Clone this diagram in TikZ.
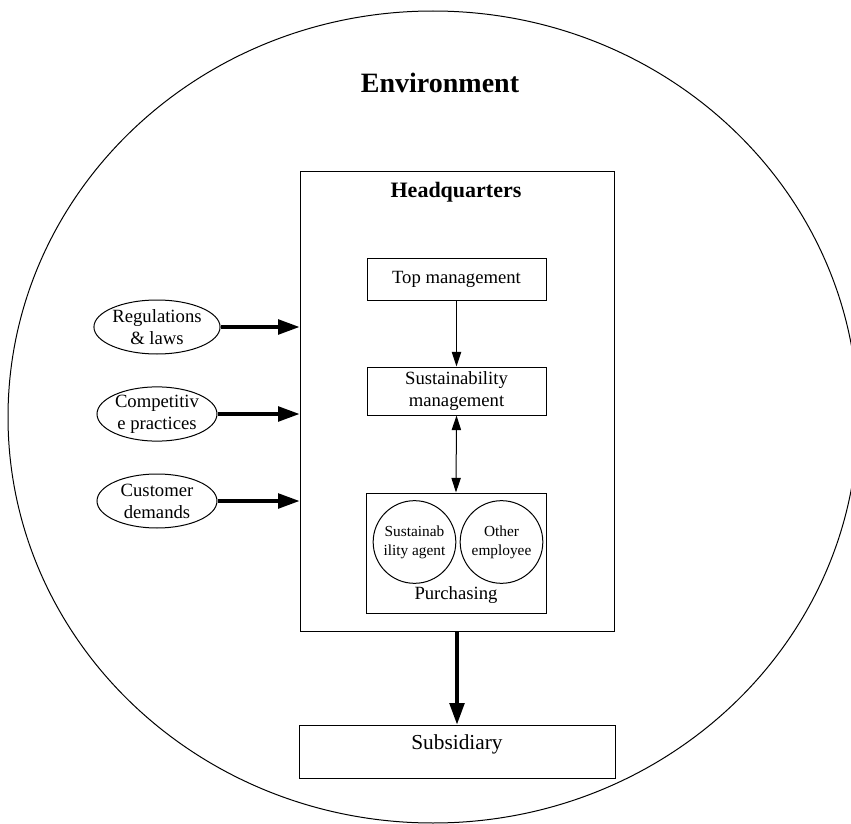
\documentclass[tikz,border=0pt]{standalone}
\usepackage{fontspec}
\setmainfont{Liberation Serif}
\usetikzlibrary{arrows.meta,shapes.geometric}
\begin{document}
\begin{tikzpicture}[x=0.75pt,y=-0.75pt,
  thinline/.style={line width=0.75pt},
  box/.style={draw,thinline,rectangle,inner sep=0pt},
  oval/.style={draw,thinline,ellipse,inner sep=0pt,minimum width=90pt,minimum height=40.5pt,align=center,
    font=\fontsize{14}{16.5}\selectfont},
  member/.style={draw,thinline,circle,inner sep=0pt,minimum size=62pt,align=center,
    font=\fontsize{11.5}{14}\selectfont},
  thinarrow/.style={thinline,-{Triangle[length=11pt,width=7pt]}},
  thinboth/.style={thinline,{Triangle[length=11pt,width=7pt]}-{Triangle[length=11pt,width=7pt]}},
  thickarrow/.style={line width=2.4pt,-{Triangle[length=16pt,width=11pt]}},
  txt/.style={inner sep=0pt,align=center}]
\useasboundingbox (0,0) rectangle (851,824);
\begin{scope}
  \clip (0,0) rectangle (851,824);
  \draw[thinline] (433,417) ellipse [x radius=425, y radius=406];
\end{scope}
\node[txt,font=\fontsize{21}{25}\selectfont\bfseries] (env) at (440,83) {Environment};

\node[box,minimum width=235.5pt,minimum height=344.25pt] (hq) at (457,401.5) {};
\node[txt,font=\fontsize{16.5}{19}\selectfont\bfseries] (hqlabel) at (456,192) {Headquarters};

\node[box,minimum width=134.25pt,minimum height=31.5pt,font=\fontsize{14}{16}\selectfont] (top) at (456.5,279) {Top management};
\node[box,minimum width=134.25pt,minimum height=36pt,align=center,font=\fontsize{14}{16}\selectfont] (sust) at (456.5,391) {Sustainability\\management};
\node[box,minimum width=135pt,minimum height=90pt] (purch) at (456,553) {};
\node[member] (agent) at (414.5,542) {Sustainab\\ility agent};
\node[member] (other) at (501.5,542) {Other\\employee};
\node[txt,font=\fontsize{14}{16}\selectfont] (purchlabel) at (456,595) {Purchasing};

\node[box,minimum width=237pt,minimum height=39.75pt] (sub) at (457,751.5) {};
\node[txt,font=\fontsize{16}{19}\selectfont] (sublabel) at (457,744) {Subsidiary};

\node[oval] (reg) at (157,327) {Regulations\\\& laws};
\node[oval] (comp) at (157,414) {Competitiv\\e practices};
\node[oval] (cust) at (157,501) {Customer\\demands};

\draw[thickarrow] (reg.east) -- (reg.east -| hq.west);
\draw[thickarrow] (comp.east) -- (comp.east -| hq.west);
\draw[thickarrow] (cust.east) -- (cust.east -| hq.west);

\draw[thinarrow] (top.south) -- (sust.north);
\draw[thinboth] (sust.south) -- (purch.north);
\draw[thickarrow] (hq.south) -- (sub.north);
\end{tikzpicture}
\end{document}
